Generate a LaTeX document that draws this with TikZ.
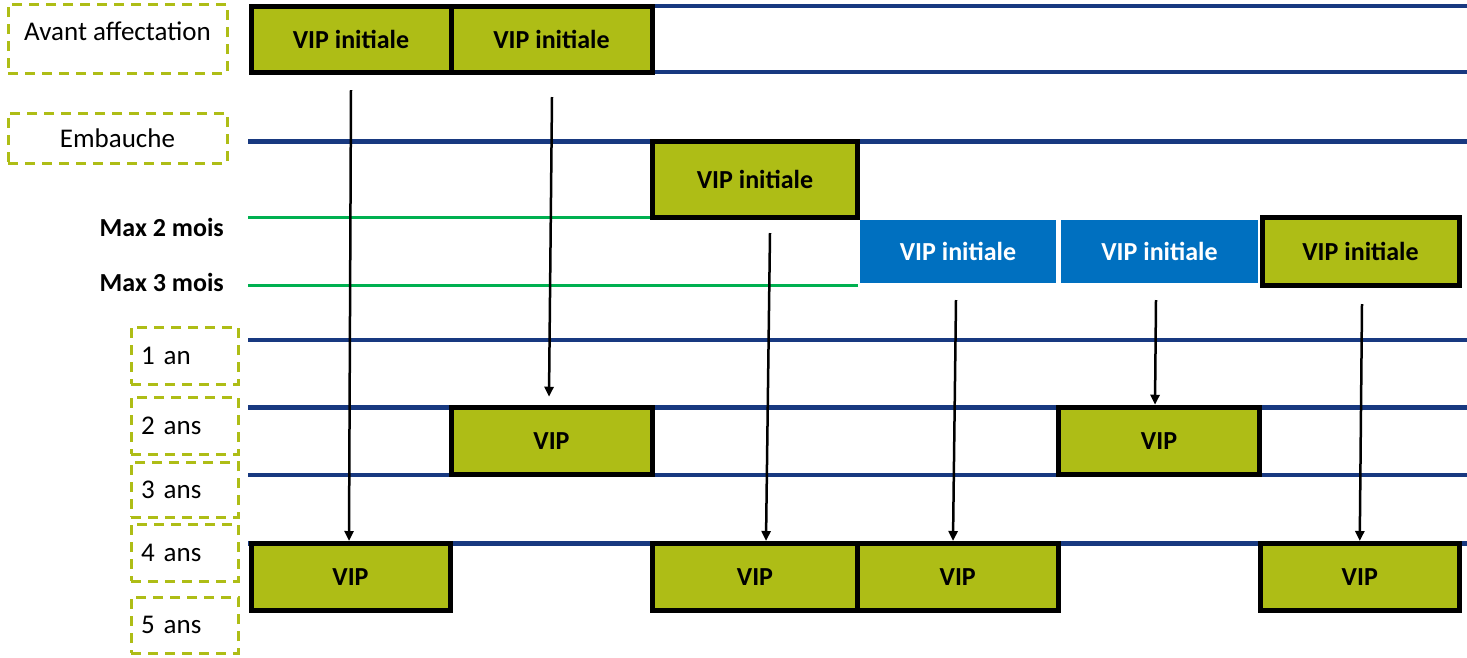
\documentclass[tikz,border=0pt]{standalone}
\usepackage{fontspec}
\setmainfont{Carlito}
\usetikzlibrary{arrows.meta}
\definecolor{vipgreen}{RGB}{174,189,22}
\definecolor{vipblue}{RGB}{0,112,192}
\definecolor{rownavy}{RGB}{24,57,128}
\definecolor{limitgreen}{RGB}{0,176,80}
\tikzset{
  vip/.style={draw=black, line width=5pt, fill=vipgreen, minimum width=200pt, minimum height=67pt, inner sep=0pt, font=\fontsize{26}{31}\selectfont\bfseries},
  vipnew/.style={fill=vipblue, text=white, minimum width=196pt, minimum height=63pt, inner sep=0pt, font=\fontsize{26}{31}\selectfont\bfseries},
  yearbox/.style={draw=vipgreen, line width=3pt, dash pattern=on 10pt off 7pt, inner sep=0pt, font=\fontsize{27}{32}\selectfont},
  yearsmall/.style={yearbox, text width=87pt, inner xsep=10pt, align=left},
  rowline/.style={rownavy, line width=4.5pt},
  limitline/.style={limitgreen, line width=3pt},
  arr/.style={black, line width=2.5pt, -{Triangle[length=10pt,width=9pt]}}
}
\begin{document}
\begin{tikzpicture}[x=1pt, y=-1pt]
      \useasboundingbox (0,0) rectangle (1467,657);

      % lignes du calendrier
      \draw[rowline] (251,6) -- (1467,6);
      \draw[rowline] (251,72) -- (1467,72);
      \draw[rowline] (248,141.5) -- (1467,141.5);
      \draw[limitline] (248,217) -- (652,217);
      \draw[limitline] (248,285) -- (858,285);
      \draw[rowline] (248,340) -- (1467,340);
      \draw[rowline] (248,407.5) -- (1467,407.5);
      \draw[rowline] (248,475) -- (1467,475);
      \draw[rowline] (248,543.5) -- (1467,543.5);

      % etiquettes
      \node[yearbox, minimum width=219pt, minimum height=69pt, text depth=15pt] (avant) at (117.5,38.5) {Avant affectation};
      \node[yearbox, minimum width=219pt, minimum height=50pt] (embauche) at (117.5,138) {Embauche};
      \node[anchor=east, inner sep=0pt, font=\fontsize{26}{31}\selectfont\bfseries] (max2) at (224,227) {Max 2 mois};
      \node[anchor=east, inner sep=0pt, font=\fontsize{26}{31}\selectfont\bfseries] (max3) at (224,282) {Max 3 mois};
      \node[yearsmall, minimum height=57pt] (an1) at (184.5,355.5) {1 an};
      \node[yearsmall, minimum height=57pt] (an2) at (184.5,425.5) {2 ans};
      \node[yearsmall, minimum height=55pt] (an3) at (184.5,489.5) {3 ans};
      \node[yearsmall, minimum height=57pt] (an4) at (184.5,552.5) {4 ans};
      \node[yearsmall, minimum height=56pt] (an5) at (184.5,625) {5 ans};

      % VIP initiales
      \node[vip, minimum height=66pt] (i1) at (351,39) {VIP initiale};
      \node[vip, minimum width=201pt, minimum height=66pt] (i2) at (551.5,39) {VIP initiale};
      \node[vip, minimum width=205pt, minimum height=76pt] (i3) at (755,179.5) {VIP initiale};
      \node[vipnew] (i4) at (958,251.5) {VIP initiale};
      \node[vipnew, minimum width=197pt] (i5) at (1159.5,251.5) {VIP initiale};
      \node[vip, minimum width=197pt, minimum height=68pt] (i6) at (1360.5,251.5) {VIP initiale};

      % VIP suivantes
      \node[vip, minimum width=201pt, minimum height=67.5pt] (v2) at (551.5,441) {VIP};
      \node[vip, minimum width=201pt, minimum height=67.5pt] (v5) at (1159,441) {VIP};
      \node[vip, minimum width=199pt] (v1) at (350.5,577) {VIP};
      \node[vip, minimum width=205pt] (v3) at (755,577) {VIP};
      \node[vip, minimum width=200.5pt] (v4) at (957.75,577) {VIP};
      \node[vip, minimum width=199.5pt] (v6) at (1359.75,577) {VIP};

      % fleches
      \coordinate (s1) at (351,90);
      \coordinate (s2) at (552,97);
      \coordinate (s3) at (770,233);
      \coordinate (s4) at (956,300);
      \coordinate (s5) at (1156,300);
      \coordinate (s6) at (1362,304);
      \draw[arr] (s1) -- ([xshift=-1.5pt]v1.north);
      \draw[arr] (s2) -- ([xshift=-2.5pt, yshift=8pt]v2.north);
      \draw[arr] (s3) -- ([xshift=11pt]v3.north);
      \draw[arr] (s4) -- ([xshift=-4.75pt]v4.north);
      \draw[arr] (s5) -- ([xshift=-4pt]v5.north);
      \draw[arr] (s6) -- (v6.north);
\end{tikzpicture}
\end{document}
